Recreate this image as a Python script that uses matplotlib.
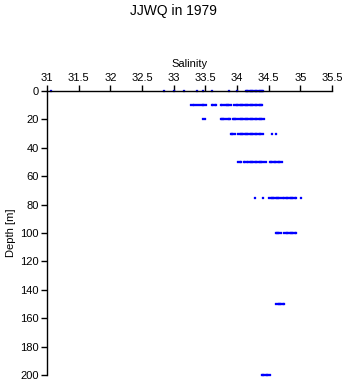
import matplotlib
matplotlib.use("Agg")
import matplotlib.pyplot as plt

plt.rcParams['font.family'] = ['Liberation Sans', 'DejaVu Sans']

title = "JJWQ in 1979"
xlabel = "Salinity"
ylabel = "Depth [m]"
xticks = [31, 31.5, 32, 32.5, 33, 33.5, 34, 34.5, 35, 35.5]
yticks = [0, 20, 40, 60, 80, 100, 120, 140, 160, 180, 200]

sal_0 = [31.07, 32.84, 33.00, 33.16, 33.37, 33.47, 33.61, 33.87, 34.00,
         34.14, 34.16, 34.18, 34.20, 34.22, 34.24, 34.26, 34.28, 34.30,
         34.32, 34.34, 34.36, 34.38, 34.40, 34.41]
sal_10 = [33.28, 33.30, 33.32, 33.36, 33.38, 33.41, 33.44, 33.46, 33.48,
          33.51, 33.60, 33.62, 33.65, 33.67, 33.75, 33.77, 33.79, 33.82,
          33.84, 33.86, 33.88, 33.91, 33.96, 33.98, 34.00, 34.02, 34.04,
          34.06, 34.08, 34.10, 34.12, 34.14, 34.16, 34.18, 34.20, 34.22,
          34.24, 34.26, 34.28, 34.30, 34.32, 34.34, 34.36, 34.38, 34.40]
sal_20 = [33.46, 33.49, 33.74, 33.76, 33.78, 33.80, 33.83, 33.85, 33.87,
          33.89, 33.93, 33.95, 33.97, 33.99, 34.01, 34.04, 34.06, 34.08,
          34.10, 34.12, 34.14, 34.16, 34.18, 34.20, 34.22, 34.24, 34.26,
          34.28, 34.30, 34.32, 34.34, 34.36, 34.38, 34.40, 34.42]
sal_30 = [33.90, 33.92, 33.94, 33.97, 34.02, 34.04, 34.06, 34.08, 34.10,
          34.12, 34.14, 34.16, 34.18, 34.20, 34.22, 34.24, 34.26, 34.28,
          34.30, 34.32, 34.34, 34.36, 34.38, 34.41, 34.56, 34.61]
sal_50 = [34.02, 34.05, 34.07, 34.11, 34.13, 34.16, 34.18, 34.20, 34.22,
          34.24, 34.26, 34.28, 34.30, 34.32, 34.34, 34.36, 34.38, 34.40,
          34.42, 34.45, 34.52, 34.54, 34.56, 34.58, 34.60, 34.62, 34.64,
          34.66, 34.68, 34.71]
sal_75 = [34.28, 34.41, 34.51, 34.53, 34.55, 34.57, 34.59, 34.61, 34.63,
          34.65, 34.67, 34.69, 34.72, 34.75, 34.77, 34.79, 34.81, 34.83,
          34.85, 34.87, 34.89, 34.91, 34.93, 35.01]
sal_100 = [34.61, 34.63, 34.65, 34.67, 34.70, 34.75, 34.77, 34.79, 34.81,
           34.83, 34.85, 34.87, 34.89, 34.91, 34.93]
sal_150 = [34.62, 34.64, 34.66, 34.68, 34.70, 34.72, 34.75]
sal_200 = [34.39, 34.41, 34.43, 34.45, 34.47, 34.49, 34.52]

depths = [0, 10, 20, 30, 50, 75, 100, 150, 200]
salinities = [sal_0, sal_10, sal_20, sal_30, sal_50, sal_75, sal_100, sal_150, sal_200]

fig = plt.figure(figsize=(3.46, 3.84), dpi=100)
ax = fig.add_axes([47/346, 1 - 375/384, (332 - 47)/346, (375 - 91)/384])

for d, s in zip(depths, salinities):
    ax.plot(s, [d] * len(s), linestyle='none', marker='s', markersize=2.1,
            markerfacecolor='#0000ff', markeredgecolor='#0000ff',
            markeredgewidth=0.2, clip_on=False)

ax.set_xlim(31, 35.5)
ax.set_ylim(200, 0)
ax.set_xticks(xticks)
ax.set_xticklabels([f"{t:g}" for t in xticks])
ax.set_yticks(yticks)
ax.xaxis.tick_top()
ax.xaxis.set_label_position('top')
ax.tick_params(axis='both', direction='out', length=4, width=1, labelsize=8, pad=2, colors='black')
ax.set_xlabel(xlabel, fontsize=8, labelpad=4)
ax.set_ylabel(ylabel, fontsize=8, labelpad=3)
for side in ['right', 'bottom']:
    ax.spines[side].set_visible(False)
for side in ['left', 'top']:
    ax.spines[side].set_linewidth(1)

fig.suptitle(title, fontsize=10, y=1 - 4/384, va='top')

fig.savefig("out.png", dpi=100)
